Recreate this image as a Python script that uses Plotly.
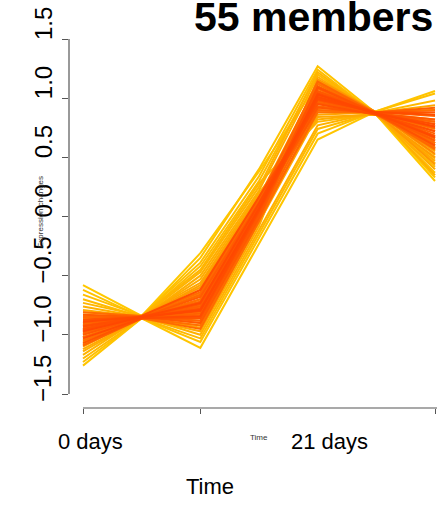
import plotly.graph_objects as go
from plotly.colors import sample_colorscale

# ---- data ----
time_points = [1, 2, 3, 4, 5, 6, 7]
x_tick_positions = [1, 3, 7]
x_tick_labels = ["0 days", "Time", "21 days"]
y_tick_values = [-1.5, -1.0, -0.5, 0.0, 0.5, 1.0, 1.5]
y_tick_labels = ["\u22121.5", "\u22121.0", "\u22120.5", "0.0", "0.5", "1.0", "1.5"]
title_text = "55 members"

membership = [0.30, 0.31, 0.32, 0.33, 0.34, 0.35, 0.36, 0.37, 0.38, 0.39, 0.40, 0.41, 0.42, 0.43, 0.44,
              0.45, 0.46, 0.47, 0.48, 0.49, 0.50, 0.51, 0.52, 0.53, 0.54, 0.55, 0.56, 0.57, 0.58, 0.59,
              0.60, 0.61, 0.62, 0.63, 0.64, 0.65, 0.66, 0.67, 0.68, 0.69, 0.70, 0.71, 0.72, 0.73, 0.74,
              0.75, 0.76, 0.77, 0.78, 0.79, 0.80, 0.81, 0.82, 0.83, 0.84]

t1 = [-0.58, -1.26, -0.62, -1.23, -0.66, -0.70, -1.20, -0.73, -1.17, -0.76, -1.14, -0.79, -1.12, -0.81, -1.10,
      -0.83, -1.08, -0.84, -1.06, -0.86, -1.04, -0.87, -1.02, -0.88, -1.00, -0.89, -0.99, -0.90, -0.98, -0.91,
      -0.97, -0.92, -0.96, -0.93, -0.95,
      -0.94, -1.05, -0.81, -1.02, -0.85, -0.98, -0.88, -1.09, -0.90, -0.96,
      -0.83, -1.00, -0.92, -1.07, -0.87, -0.95, -0.93, -1.03, -0.89, -0.97]
t2 = [-0.84, -0.86, -0.85, -0.86, -0.84, -0.85, -0.86, -0.84, -0.85, -0.85, -0.86, -0.85, -0.86, -0.84, -0.85,
      -0.85, -0.86, -0.84, -0.85, -0.85, -0.86, -0.84, -0.85, -0.85, -0.86, -0.85, -0.85, -0.84, -0.86, -0.85,
      -0.85, -0.85, -0.86, -0.85, -0.85,
      -0.85, -0.86, -0.84, -0.86, -0.85, -0.85, -0.85, -0.86, -0.85, -0.85,
      -0.85, -0.85, -0.85, -0.86, -0.85, -0.84, -0.85, -0.86, -0.85, -0.85]
t3 = [-0.31, -1.11, -0.35, -1.06, -0.39, -0.42, -1.03, -0.45, -0.47, -1.00, -0.50, -0.53, -0.97, -0.56, -0.94,
      -0.58, -0.92, -0.60, -0.65, -0.90, -0.62, -0.88, -0.67, -0.86, -0.70, -0.84, -0.72, -0.83, -0.74, -0.81,
      -0.75, -0.80, -0.76, -0.79, -0.77,
      -0.70, -0.92, -0.64, -0.95, -0.66, -0.88, -0.72, -0.82, -0.76, -0.85,
      -0.68, -0.90, -0.74, -0.86, -0.78, -0.62, -0.80, -0.84, -0.73, -0.79]
t4 = [0.38, -0.23, 0.40, -0.18, 0.34, 0.30, -0.15, 0.28, 0.25, -0.12, 0.22, 0.20, -0.08, 0.18, -0.05,
      0.16, -0.03, 0.15, 0.12, -0.01, 0.14, 0.00, 0.10, 0.02, 0.08, 0.03, 0.07, 0.04, 0.06, 0.05,
      0.09, 0.05, 0.06, 0.07, 0.08,
      0.14, -0.02, 0.16, -0.04, 0.13, 0.00, 0.10, 0.04, 0.08, 0.02,
      0.12, -0.01, 0.09, 0.03, 0.07, 0.17, 0.06, 0.05, 0.11, 0.07]
t5 = [1.12, 0.65, 1.27, 0.70, 1.24, 1.20, 0.74, 0.80, 1.22, 0.77, 1.18, 0.82, 1.15, 0.84, 0.86,
      1.13, 0.88, 1.10, 0.90, 1.16, 0.92, 1.08, 1.12, 0.93, 1.06, 0.95, 1.14, 0.96, 1.04, 0.97,
      1.09, 0.98, 1.02, 1.00, 1.05,
      1.12, 0.88, 1.08, 0.90, 1.14, 0.93, 1.05, 1.02, 0.96, 1.10,
      0.98, 1.06, 0.92, 1.00, 1.09, 0.95, 1.04, 0.99, 1.01, 1.03]
t6 = [0.86, 0.89, 0.87, 0.89, 0.86, 0.86, 0.88, 0.87, 0.86, 0.88, 0.87, 0.87, 0.88, 0.86, 0.88,
      0.87, 0.88, 0.86, 0.87, 0.88, 0.88, 0.86, 0.87, 0.87, 0.88, 0.87, 0.88, 0.86, 0.88, 0.87,
      0.87, 0.87, 0.88, 0.87, 0.87,
      0.87, 0.88, 0.86, 0.88, 0.87, 0.87, 0.87, 0.88, 0.87, 0.87,
      0.87, 0.87, 0.87, 0.88, 0.87, 0.86, 0.87, 0.88, 0.87, 0.87]
t7 = [0.30, 1.06, 0.33, 1.04, 0.37, 0.42, 0.98, 0.45, 0.49, 0.52, 0.35, 0.40, 0.55, 0.47, 0.94,
      0.58, 0.90, 0.50, 0.62, 0.44, 0.86, 0.60, 0.56, 0.82, 0.64, 0.78, 0.53, 0.80, 0.66, 0.76,
      0.58, 0.74, 0.68, 0.72, 0.62,
      0.58, 0.90, 0.62, 0.85, 0.57, 0.80, 0.66, 0.92, 0.70, 0.75,
      0.64, 0.82, 0.68, 0.88, 0.60, 0.72, 0.78, 0.86, 0.67, 0.76]

# ---- figure ----
FONT = "Liberation Sans, Arial, sans-serif"
AXIS_COL = "#555555"
member_scale = [[0.0, "#FFC800"], [0.25, "#FFA600"], [0.55, "#FF7C00"], [1.0, "#FF4800"]]
mmin, mmax = min(membership), max(membership)
colors = sample_colorscale(member_scale, [(m - mmin) / (mmax - mmin) for m in membership])

fig = go.Figure()
columns = [t1, t2, t3, t4, t5, t6, t7]
for k in range(len(membership)):
    fig.add_trace(go.Scatter(
        x=time_points, y=[col[k] for col in columns], mode="lines",
        line=dict(color=colors[k], width=2.0), hoverinfo="skip", showlegend=False))

W, H = 437, 506
ML, MR, MT, MB = 69, 0, 39, 98
pw, ph = W - ML - MR, H - MT - MB

# axis ranges so that x=1 sits at px 83 and x=7 at px 435; y 1.5 at px 39 and -1.5 at px 394
px_per_x = (435 - 83) / 6.0
x_lo = 1 - (83 - ML) / px_per_x
x_hi = 1 + (W - MR - 83) / px_per_x
px_per_y = (394 - 39) / 3.0
y_hi = 1.5
y_lo = 1.5 - ph / px_per_y


def paper_x(p):
    return (p - ML) / pw


def paper_y(p):
    return (H - MB - p) / ph


def y_to_paper(v):
    return (v - y_lo) / (y_hi - y_lo)


annotations = []
# y tick labels (rotated, sitting slightly above their ticks)
for v, lab in zip(y_tick_values, y_tick_labels):
    annotations.append(dict(x=paper_x(43), xref="paper", y=y_to_paper(v + 15 / px_per_y), yref="paper",
                            text=lab, textangle=-90, showarrow=False,
                            xanchor="center", yanchor="middle",
                            font=dict(family=FONT, size=24, color="#000000")))
# x labels
annotations.append(dict(x=paper_x(90), xref="paper", y=paper_y(441), yref="paper",
                        text=x_tick_labels[0], showarrow=False, xanchor="center", yanchor="middle",
                        font=dict(family=FONT, size=22, color="#000000")))
annotations.append(dict(x=paper_x(259), xref="paper", y=paper_y(437), yref="paper",
                        text=x_tick_labels[1], showarrow=False, xanchor="center", yanchor="middle",
                        font=dict(family=FONT, size=8, color="#333333")))
annotations.append(dict(x=paper_x(329), xref="paper", y=paper_y(441), yref="paper",
                        text=x_tick_labels[2], showarrow=False, xanchor="center", yanchor="middle",
                        font=dict(family=FONT, size=22, color="#000000")))
# axis titles
annotations.append(dict(x=paper_x(210), xref="paper", y=paper_y(486), yref="paper",
                        text="Time", showarrow=False, xanchor="center", yanchor="middle",
                        font=dict(family=FONT, size=22, color="#000000")))
annotations.append(dict(x=paper_x(40), xref="paper", y=paper_y(212), yref="paper",
                        text="Expression changes", textangle=-90, showarrow=False,
                        xanchor="center", yanchor="middle",
                        font=dict(family=FONT, size=8, color="#333333")))
# title
annotations.append(dict(x=paper_x(192), xref="paper", y=paper_y(17), yref="paper",
                        text="<b>" + title_text + "</b>", showarrow=False,
                        xanchor="left", yanchor="middle",
                        font=dict(family=FONT, size=41, color="#000000")))

shapes = [
    dict(type="line", xref="paper", x0=0, x1=0, yref="y", y0=-1.5, y1=1.5,
         line=dict(color=AXIS_COL, width=1.2)),
    dict(type="line", xref="x", x0=1, x1=x_hi, yref="paper", y0=0, y1=0,
         line=dict(color=AXIS_COL, width=1.2)),
]

fig.update_layout(
    width=W, height=H,
    margin=dict(l=ML, r=MR, t=MT, b=MB, pad=0),
    paper_bgcolor="white", plot_bgcolor="white",
    showlegend=False, hovermode=False,
    annotations=annotations, shapes=shapes,
    xaxis=dict(range=[x_lo, x_hi], showgrid=False, zeroline=False, showline=False,
               tickmode="array", tickvals=x_tick_positions, showticklabels=False,
               ticks="outside", ticklen=5, tickwidth=1.2, tickcolor=AXIS_COL, fixedrange=True),
    yaxis=dict(range=[y_lo, y_hi], showgrid=False, zeroline=False, showline=False,
               tickmode="array", tickvals=y_tick_values, showticklabels=False,
               ticks="outside", ticklen=6, tickwidth=1.2, tickcolor=AXIS_COL, fixedrange=True),
)

fig.write_html(
    "out.html",
    config={"displayModeBar": False},
    post_script="document.body.style.margin='0';document.body.style.overflow='hidden';",
)
